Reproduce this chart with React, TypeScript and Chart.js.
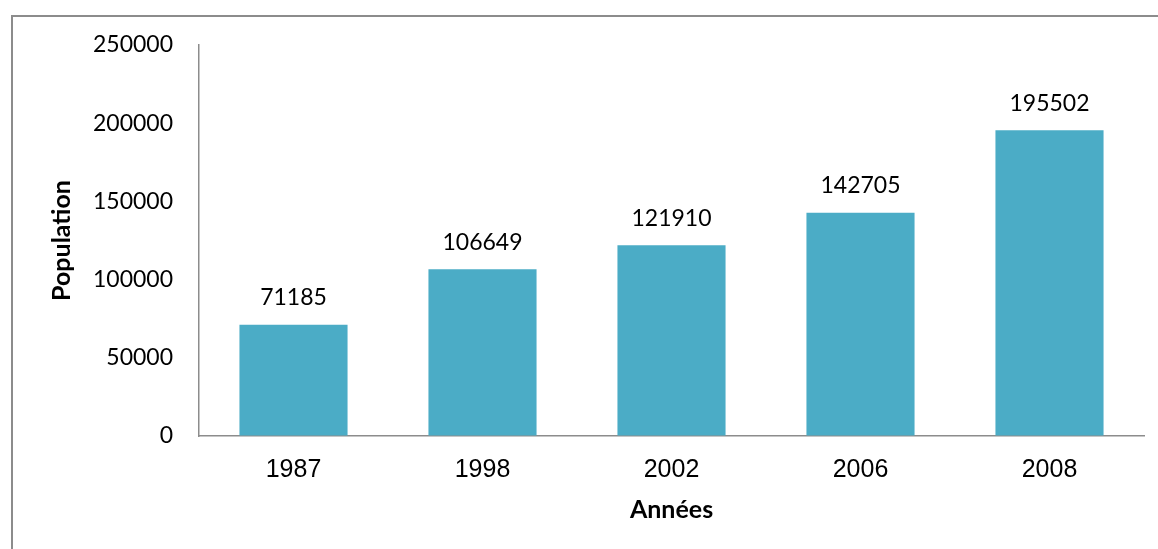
import React, { useEffect, useRef } from "react";
import { Chart, registerables } from "chart.js";

Chart.register(...registerables);

const categories: string[] = ["1987", "1998", "2002", "2006", "2008"];
const population: number[] = [71185, 106649, 121910, 142705, 195502];
const yTickValues: number[] = [0, 50000, 100000, 150000, 200000, 250000];
const yTitle = "Population";
const xTitle = "Années";

const BAR_COLOR = "#4BACC6";
const AXIS_COLOR = "#8c8c8c";
const LABEL_FONT = "Lato";

const valueLabelPlugin = {
  id: "valueLabels",
  afterDatasetsDraw(chart: any) {
    const ctx = chart.ctx;
    const meta = chart.getDatasetMeta(0);
    const data = chart.data.datasets[0].data as number[];
    ctx.save();
    ctx.font = `23px ${LABEL_FONT}`;
    ctx.fillStyle = "#000000";
    ctx.textAlign = "center";
    ctx.textBaseline = "middle";
    meta.data.forEach((bar: any, i: number) => {
      ctx.fillText(String(data[i]), bar.x, bar.y - 27);
    });
    ctx.restore();
  },
};

export default function App() {
  const canvasRef = useRef<HTMLCanvasElement | null>(null);

  useEffect(() => {
    if (!canvasRef.current) return;
    const chart = new Chart(canvasRef.current, {
      type: "bar",
      data: {
        labels: categories,
        datasets: [
          {
            label: yTitle,
            data: population,
            backgroundColor: BAR_COLOR,
            borderWidth: 0,
            barPercentage: 0.572,
            categoryPercentage: 1,
          },
        ],
      },
      options: {
        animation: false,
        responsive: false,
        maintainAspectRatio: false,
        layout: { padding: { top: 45, right: 14, left: 0, bottom: 0 } },
        plugins: {
          legend: { display: false },
          tooltip: { enabled: false },
          title: { display: false },
        },
        scales: {
          x: {
            afterFit(scale: any) {
              scale.height = 113;
            },
            grid: { display: true, drawOnChartArea: false, drawTicks: false },
            border: { display: true, color: AXIS_COLOR, width: 1.5 },
            ticks: {
              color: "#000000",
              padding: 19,
              font: { family: "'Liberation Sans', Arial", size: 25 },
              maxRotation: 0,
            },
            title: {
              display: true,
              text: xTitle,
              color: "#000000",
              font: { family: LABEL_FONT, size: 25, weight: "bold" },
              padding: { top: 0, bottom: 24 },
            },
          },
          y: {
            min: 0,
            max: 250000,
            afterFit(scale: any) {
              scale.width = 199;
            },
            afterBuildTicks(scale: any) {
              scale.ticks = yTickValues.map((v) => ({ value: v }));
            },
            grid: { display: true, drawOnChartArea: false, drawTicks: false },
            border: { display: true, color: AXIS_COLOR, width: 1.5 },
            ticks: {
              color: "#000000",
              padding: 26,
              font: { family: LABEL_FONT, size: 23 },
              callback: (v: any) => String(v),
            },
            title: {
              display: true,
              text: yTitle,
              color: "#000000",
              font: { family: LABEL_FONT, size: 25, weight: "bold" },
              padding: { top: 47, bottom: 0 },
            },
          },
        },
      },
      plugins: [valueLabelPlugin],
    });
    return () => chart.destroy();
  }, []);

  return (
    <div
      style={{
        position: "fixed",
        left: 0,
        top: 0,
        width: 1158,
        height: 549,
        overflow: "hidden",
        background: "#ffffff",
      }}
    >
      <div
        style={{
          position: "absolute",
          left: 11,
          top: 15,
          width: 1300,
          height: 700,
          borderLeft: `2px solid ${AXIS_COLOR}`,
          borderTop: `2px solid ${AXIS_COLOR}`,
          boxSizing: "border-box",
        }}
      />
      <canvas
        ref={canvasRef}
        width={1158}
        height={549}
        style={{ position: "absolute", left: 0, top: 0, width: 1158, height: 549 }}
      />
    </div>
  );
}
